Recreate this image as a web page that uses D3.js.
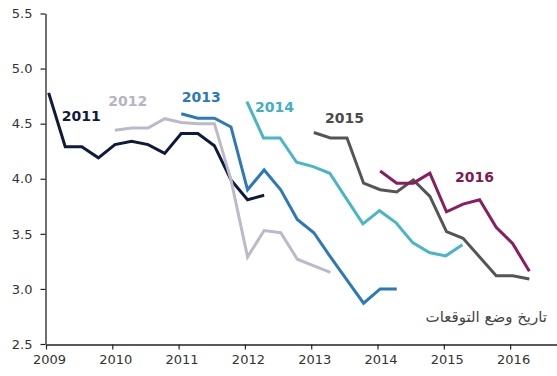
<!DOCTYPE html>
<html><head><meta charset="utf-8">
<script src="https://cdn.jsdelivr.net/npm/d3@7"></script>
<style>
html,body{margin:0;padding:0;background:#fff;}
svg{display:block;}
</style></head>
<body>
<svg id="chart" width="557" height="376"></svg>
<script>
// ---- data ----
const seriesNames = ["2011", "2012", "2013", "2014", "2015", "2016"];
const seriesStart = [2009.04, 2010.04, 2011.04, 2012.03, 2013.04, 2014.04]; // first forecast date (decimal year), quarterly steps
const values2011 = [4.78, 4.29, 4.29, 4.19, 4.31, 4.34, 4.31, 4.23, 4.41, 4.41, 4.30, 3.99, 3.81, 3.85];
const values2012 = [4.44, 4.46, 4.46, 4.545, 4.51, 4.50, 4.50, 3.99, 3.29, 3.53, 3.51, 3.27, 3.21, 3.15];
const values2013 = [4.59, 4.55, 4.55, 4.47, 3.90, 4.08, 3.90, 3.63, 3.51, 3.29, 3.08, 2.87, 3.00, 3.00];
const values2014 = [4.70, 4.37, 4.37, 4.15, 4.11, 4.05, 3.82, 3.59, 3.71, 3.60, 3.42, 3.33, 3.30, 3.40];
const values2015 = [4.42, 4.37, 4.37, 3.96, 3.90, 3.88, 3.99, 3.84, 3.52, 3.46, 3.29, 3.12, 3.12, 3.09];
const values2016 = [4.07, 3.96, 3.96, 4.05, 3.70, 3.77, 3.81, 3.56, 3.41, 3.16];
const allValues = [values2011, values2012, values2013, values2014, values2015, values2016];
const lineColors = ["#0e1b3d", "#bcbaca", "#2b79b9", "#48b6c4", "#555555", "#8b1c5d"];
const labelColors = ["#0e1b3d", "#b5b3c5", "#2b79b9", "#3fb0c0", "#4a4a4a", "#7d1a54"];
// label anchor positions (data coordinates: year, value of baseline)
const labelX = [2009.237, 2009.94, 2011.047, 2012.152, 2013.208, 2015.169];
const labelY = [4.52, 4.66, 4.70, 4.61, 4.51, 3.97];
const yTicks = [2.5, 3.0, 3.5, 4.0, 4.5, 5.0, 5.5];
const xTicks = [2009, 2010, 2011, 2012, 2013, 2014, 2015, 2016];
const noteText = "تاريخ وضع التوقعات";
const quarter = 0.25;

// ---- chart ----
const svg = d3.select("#chart");
const x = d3.scaleLinear().domain([2009, 2016.707]).range([46, 557]);
const y = d3.scaleLinear().domain([2.5, 5.5]).range([344, 13.5]);
const font = "'DejaVu Sans', Verdana, sans-serif";

// y axis
const gy = svg.append("g").attr("transform", "translate(45.5,0)")
  .call(d3.axisLeft(y).tickValues(yTicks).tickFormat(d3.format(".1f")).tickSize(5).tickSizeOuter(0));
gy.select(".domain").attr("stroke", "#222").attr("stroke-width", 1.3);
gy.selectAll(".tick line").attr("stroke", "#222").attr("stroke-width", 1.2);
gy.selectAll(".tick text").attr("font-family", font).attr("font-size", 13).attr("fill", "#333").attr("x", -13);

// x axis
const gx = svg.append("g").attr("transform", "translate(0,344.5)")
  .call(d3.axisBottom(x).tickValues(xTicks).tickFormat(d3.format("d")).tickSize(5).tickSizeOuter(0));
gx.select(".domain").attr("stroke", "#222").attr("stroke-width", 1.3);
gx.selectAll(".tick line").attr("stroke", "#222").attr("stroke-width", 1.2);
gx.selectAll(".tick text").attr("font-family", font).attr("font-size", 13).attr("fill", "#333").attr("dx", 3).attr("y", 10);

// lines
const line = d3.line().x(d => x(d.t)).y(d => y(d.v));
allValues.forEach((vals, i) => {
  const pts = vals.map((v, k) => ({ t: seriesStart[i] + k * quarter, v }));
  svg.append("path").datum(pts)
    .attr("d", line)
    .attr("fill", "none")
    .attr("stroke", lineColors[i])
    .attr("stroke-width", 3)
    .attr("stroke-linejoin", "miter");
});

// series labels
seriesNames.forEach((name, i) => {
  svg.append("text")
    .attr("x", x(labelX[i]))
    .attr("y", y(labelY[i]))
    .attr("font-family", font)
    .attr("font-weight", "bold")
    .attr("font-size", 14)
    .attr("fill", labelColors[i])
    .text(name);
});

// note
svg.append("text")
  .attr("x", 547).attr("y", 322)
  .attr("text-anchor", "start")
  .attr("direction", "rtl")
  .attr("font-family", font)
  .attr("font-size", 15)
  .attr("fill", "#444")
  .text(noteText);
</script>
</body></html>
